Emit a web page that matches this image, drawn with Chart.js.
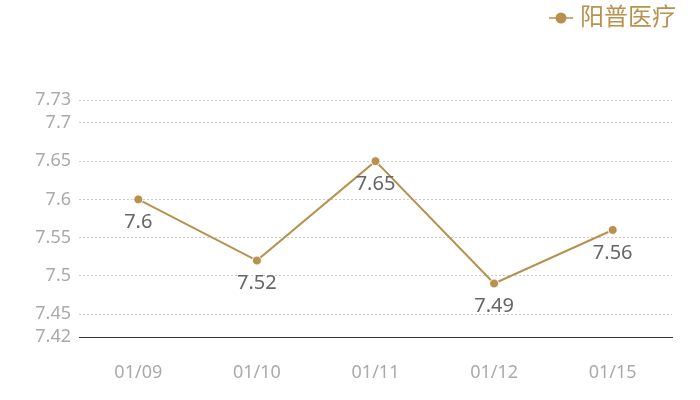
<!DOCTYPE html>
<html><head><meta charset="utf-8">
<script src="https://cdn.jsdelivr.net/npm/chart.js@4"></script>
<style>html,body{margin:0;padding:0;background:#fff}#wrap{width:700px;height:400px}</style>
</head><body><div id="wrap"><canvas id="c" width="700" height="400"></canvas></div>
<script>
const categories = ["01/09", "01/10", "01/11", "01/12", "01/15"];
const seriesName = "阳普医疗";
const seriesValues = [7.6, 7.52, 7.65, 7.49, 7.56];
const yTicks = [7.42, 7.45, 7.5, 7.55, 7.6, 7.65, 7.7, 7.73];

const GOLD = "#b8914f";
const FONT = "'Noto Sans', 'Noto Sans CJK SC', sans-serif";

const labelPlugin = {
  id: "pointLabels",
  afterDatasetsDraw(chart) {
    const ctx = chart.ctx;
    const meta = chart.getDatasetMeta(0);
    const ds = chart.data.datasets[0];
    ctx.save();
    ctx.font = "20px " + FONT;
    ctx.fillStyle = "#666666";
    ctx.textAlign = "center";
    ctx.textBaseline = "middle";
    meta.data.forEach((pt, i) => {
      ctx.fillText(String(ds.data[i]), pt.x, pt.y + 23);
    });
    ctx.restore();
  }
};

const legendPlugin = {
  id: "customLegend",
  afterDraw(chart) {
    const ctx = chart.ctx;
    const ds = chart.data.datasets[0];
    ctx.save();
    ctx.font = "24px " + FONT;
    const right = 676, cy = 18;
    const w = ctx.measureText(ds.label).width;
    const tx = right - w;
    ctx.fillStyle = GOLD;
    ctx.textAlign = "left";
    ctx.textBaseline = "middle";
    ctx.fillText(ds.label, tx, cy);
    const sx = tx - 7;
    ctx.strokeStyle = GOLD;
    ctx.lineWidth = 1.5;
    ctx.beginPath();
    ctx.moveTo(sx - 24, cy);
    ctx.lineTo(sx, cy);
    ctx.stroke();
    ctx.beginPath();
    ctx.arc(sx - 12, cy, 5.5, 0, Math.PI * 2);
    ctx.fill();
    ctx.restore();
  }
};

new Chart(document.getElementById("c"), {
  type: "line",
  data: {
    labels: categories,
    datasets: [{
      label: seriesName,
      data: seriesValues,
      borderColor: GOLD,
      backgroundColor: GOLD,
      borderWidth: 2,
      pointRadius: 4.5,
      pointBorderColor: "#ffffff",
      pointBorderWidth: 1,
      pointBackgroundColor: GOLD,
      tension: 0,
      fill: false
    }]
  },
  options: {
    responsive: false,
    animation: false,
    layout: { padding: { top: 100, right: 28, left: 0, bottom: 0 } },
    plugins: { legend: { display: false }, tooltip: { enabled: false } },
    scales: {
      x: {
        offset: true,
        grid: { display: false, drawTicks: false },
        border: { display: true, color: "#333333", width: 1 },
        ticks: { color: "#aaaaaa", font: { family: FONT, size: 18 }, padding: 25 },
        afterFit(s) { s.height = 63; }
      },
      y: {
        min: 7.42,
        max: 7.73,
        afterBuildTicks(s) { s.ticks = yTicks.map(v => ({ value: v })); },
        grid: { color: "#cccccc", lineWidth: 1, drawTicks: false },
        border: { display: false, dash: [2, 2] },
        ticks: {
          color: "#aaaaaa", font: { family: FONT, size: 18 }, padding: 8,
          autoSkip: false,
          callback: v => String(Math.round(v * 100) / 100)
        },
        afterFit(s) { s.width = 79; }
      }
    }
  },
  plugins: [labelPlugin, legendPlugin]
});
</script></body></html>
